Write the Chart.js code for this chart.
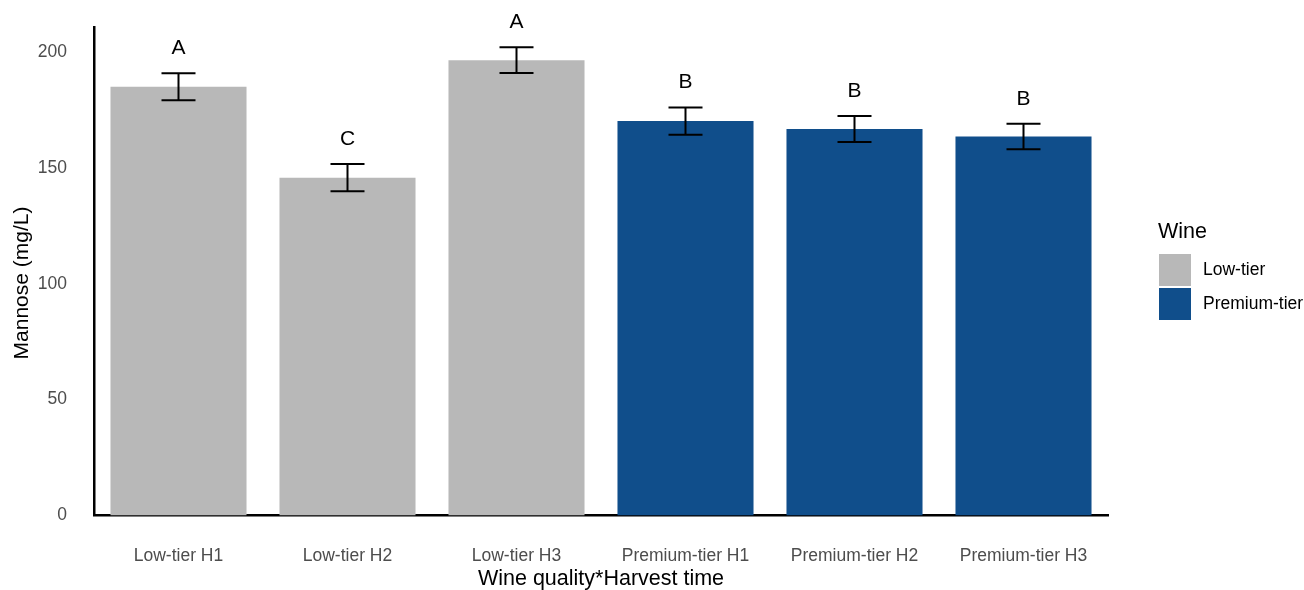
<!DOCTYPE html>
<html>
<head>
<meta charset="utf-8">
<title>Mannose by wine quality and harvest time</title>
<script src="https://cdn.jsdelivr.net/npm/chart.js@4/dist/chart.umd.min.js"></script>
<style>
  html, body { margin: 0; padding: 0; background: #ffffff; }
  #wrap { width: 1304px; height: 590px; }
</style>
</head>
<body>
<div id="wrap"><canvas id="chart" width="1304" height="590"></canvas></div>
<script>
// Groups on the x axis (wine quality * harvest time)
const groups = ['Low-tier H1', 'Low-tier H2', 'Low-tier H3', 'Premium-tier H1', 'Premium-tier H2', 'Premium-tier H3'];
// Wine class of each group
const wineClass = ['Low-tier', 'Low-tier', 'Low-tier', 'Premium-tier', 'Premium-tier', 'Premium-tier'];
// Mean mannose (mg/L) and standard error per group
const meanMannose = [185.0, 145.8, 196.5, 170.2, 166.8, 163.5];
const seMannose = [5.8, 5.9, 5.6, 5.9, 5.6, 5.5];
// Significance letters
const sigLetters = ['A', 'C', 'A', 'B', 'B', 'B'];
// Y axis tick values
const yTickValues = [0, 50, 100, 150, 200];
// Axis titles
const xTitle = 'Wine quality*Harvest time';
const yTitle = 'Mannose (mg/L)';
// Legend entries
const legendTitle = 'Wine';
const wineLevels = ['Low-tier', 'Premium-tier'];
const wineColors = ['#B8B8B8', '#104E8B'];

const FONT = '"Liberation Sans", Arial, Helvetica, sans-serif';

const datasets = wineLevels.map((lvl, k) => ({
  label: lvl,
  data: meanMannose.map((v, i) => (wineClass[i] === lvl ? v : null)),
  backgroundColor: wineColors[k],
  borderWidth: 0,
  categoryPercentage: 1.0,
  barPercentage: 0.805,
  grouped: false
}));

// Error bars and letters above each bar
const errorBarPlugin = {
  id: 'errorBars',
  afterDatasetsDraw(chart) {
    const { ctx, scales: { x, y } } = chart;
    ctx.save();
    ctx.strokeStyle = '#000000';
    ctx.lineWidth = 2;
    ctx.lineCap = 'butt';
    meanMannose.forEach((m, i) => {
      const cx = x.getPixelForValue(i);
      const yTop = y.getPixelForValue(m + seMannose[i]);
      const yBot = y.getPixelForValue(m - seMannose[i]);
      const half = 17;
      ctx.beginPath();
      ctx.moveTo(cx, yTop); ctx.lineTo(cx, yBot);
      ctx.moveTo(cx - half, yTop); ctx.lineTo(cx + half, yTop);
      ctx.moveTo(cx - half, yBot); ctx.lineTo(cx + half, yBot);
      ctx.stroke();
      ctx.fillStyle = '#000000';
      ctx.font = '21px ' + FONT;
      ctx.textAlign = 'center';
      ctx.textBaseline = 'alphabetic';
      ctx.fillText(sigLetters[i], cx, yTop - 19);
    });
    ctx.restore();
  }
};

// Y axis title, centred on the 100 mg/L level like the original layout
const yTitlePlugin = {
  id: 'yTitle',
  afterDraw(chart) {
    const { ctx } = chart;
    ctx.save();
    ctx.translate(22, 283);
    ctx.rotate(-Math.PI / 2);
    ctx.fillStyle = '#000000';
    ctx.font = '21px ' + FONT;
    ctx.textAlign = 'center';
    ctx.textBaseline = 'middle';
    ctx.fillText(yTitle, 0, 0);
    ctx.restore();
  }
};

// Legend on the right side
const sideLegendPlugin = {
  id: 'sideLegend',
  afterDraw(chart) {
    const { ctx } = chart;
    const x0 = 1159;
    ctx.save();
    ctx.fillStyle = '#000000';
    ctx.font = '21.5px ' + FONT;
    ctx.textAlign = 'left';
    ctx.textBaseline = 'middle';
    ctx.fillText(legendTitle, x0 - 1, 232);
    chart.data.datasets.forEach((ds, k) => {
      const top = 254 + k * 34;
      ctx.fillStyle = ds.backgroundColor;
      ctx.fillRect(x0, top, 32, 32);
      ctx.fillStyle = '#000000';
      ctx.font = '17.5px ' + FONT;
      ctx.fillText(ds.label, 1203, top + 16);
    });
    ctx.restore();
  }
};

new Chart(document.getElementById('chart'), {
  type: 'bar',
  data: { labels: groups, datasets },
  plugins: [errorBarPlugin, yTitlePlugin, sideLegendPlugin],
  options: {
    responsive: false,
    animation: false,
    devicePixelRatio: 1,
    layout: { padding: { left: 0, right: 196, top: 27, bottom: 0 } },
    plugins: {
      legend: { display: false },
      tooltip: { enabled: false }
    },
    scales: {
      x: {
        type: 'category',
        offset: true,
        grid: { display: false, drawTicks: false },
        border: { display: true, color: '#000000', width: 2.5 },
        ticks: {
          color: '#4D4D4D',
          font: { family: FONT, size: 17.5 },
          padding: 30,
          maxRotation: 0,
          autoSkip: false
        },
        title: {
          display: true,
          text: xTitle,
          color: '#000000',
          font: { family: FONT, size: 21.5, lineHeight: 1 },
          padding: { top: 0, bottom: 0 }
        },
        afterFit(scale) {
          scale.height = 74.5;
          scale.paddingLeft = 0;
          scale.paddingRight = 0;
        }
      },
      y: {
        min: 0,
        max: 210.8,
        grid: { display: false, drawTicks: false },
        border: { display: true, color: '#000000', width: 2.5 },
        afterBuildTicks(scale) { scale.ticks = yTickValues.map(v => ({ value: v })); },
        ticks: {
          color: '#4D4D4D',
          font: { family: FONT, size: 17.5 },
          padding: 27
        },
        title: { display: false },
        afterFit(scale) {
          scale.width = 94;
          scale.paddingTop = 0;
          scale.paddingBottom = 0;
        }
      }
    }
  }
});
</script>
</body>
</html>
